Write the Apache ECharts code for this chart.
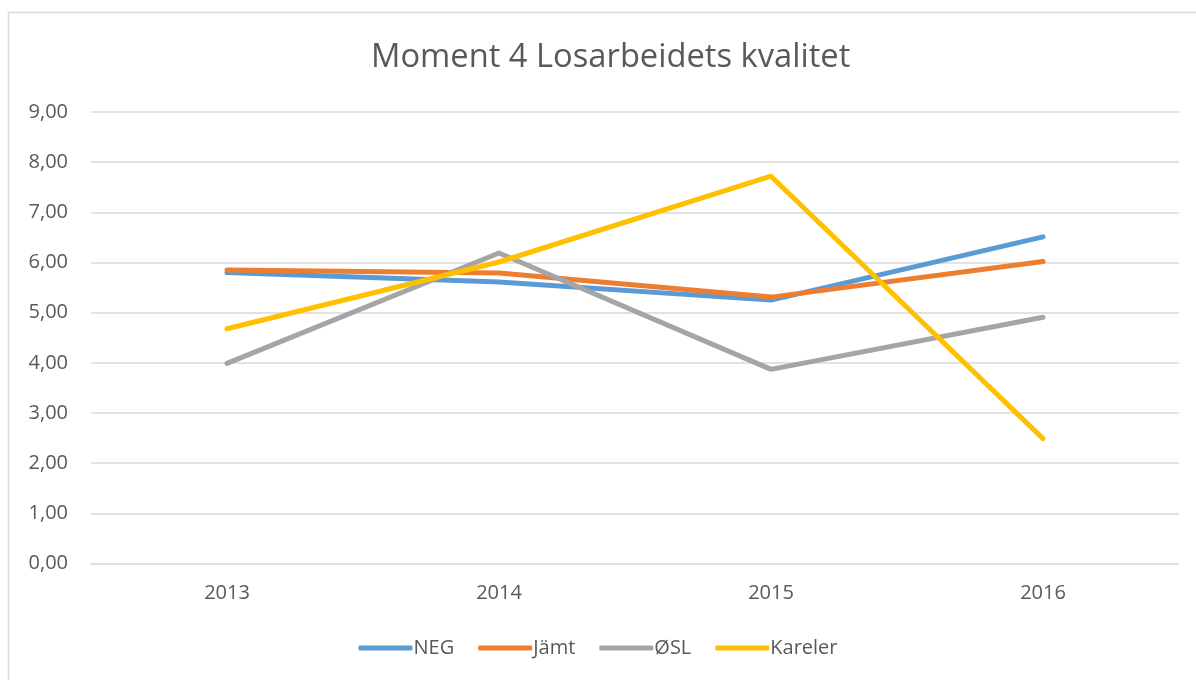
<!DOCTYPE html>
<html><head><meta charset="utf-8">
<script src="https://cdn.jsdelivr.net/npm/echarts@6/dist/echarts.min.js"></script>
<style>html,body{margin:0;padding:0;background:#fff}#c{width:1196px;height:680px}</style>
</head><body><div id="c"></div>
<script>
const categories = ['2013', '2014', '2015', '2016'];
const NEG = [5.80, 5.61, 5.25, 6.51];
const Jamt = [5.85, 5.79, 5.31, 6.02];
const OSL = [3.99, 6.19, 3.87, 4.91];
const Kareler = [4.68, 6.01, 7.72, 2.49];
const seriesNames = ['NEG', 'Jämt', 'ØSL', 'Kareler'];
const colors = ['#5b9bd5', '#ed7d31', '#a5a5a5', '#ffc000'];
const yTicks = { min: 0, max: 9, interval: 1 };

const font = 'Open Sans';
const chart = echarts.init(document.getElementById('c'));
const data = [NEG, Jamt, OSL, Kareler];
chart.setOption({
  animation: false,
  color: colors,
  graphic: [{ type: 'rect', shape: { x: 8.5, y: 12.5, width: 1300, height: 800 }, style: { fill: 'none', stroke: '#d9d9d9', lineWidth: 1.5 }, silent: true }],
  title: { text: 'Moment 4 Losarbeidets kvalitet', left: 366, top: 36,
    textStyle: { fontFamily: font, fontWeight: 'normal', fontSize: 32.7, color: '#595959' } },
  grid: { left: 91, right: 17, top: 112, bottom: 116.5, containLabel: false },
  legend: { bottom: 17, left: 'center', itemWidth: 54, itemHeight: 5, itemGap: 24, icon: 'roundRect',
    textStyle: { fontFamily: font, fontSize: 20, color: '#595959', padding: [0,0,0,-4] },
    data: seriesNames },
  xAxis: { type: 'category', data: categories, boundaryGap: true,
    axisLine: { lineStyle: { color: '#d9d9d9' } }, axisTick: { show: false },
    axisLabel: { fontFamily: font, fontSize: 20, color: '#595959', margin: 20 } },
  yAxis: { type: 'value', min: yTicks.min, max: yTicks.max, interval: yTicks.interval,
    axisLine: { show: false }, axisTick: { show: false },
    splitLine: { lineStyle: { color: '#d9d9d9', width: 1.5 } },
    axisLabel: { fontFamily: font, fontSize: 20, color: '#595959', margin: 23,
      formatter: v => v.toFixed(2).replace('.', ',') } },
  series: seriesNames.map((n, i) => ({ name: n, type: 'line', data: data[i], symbol: 'none',
    lineStyle: { width: 5, color: colors[i], cap: 'round', join: 'round' } }))
});
</script></body></html>
